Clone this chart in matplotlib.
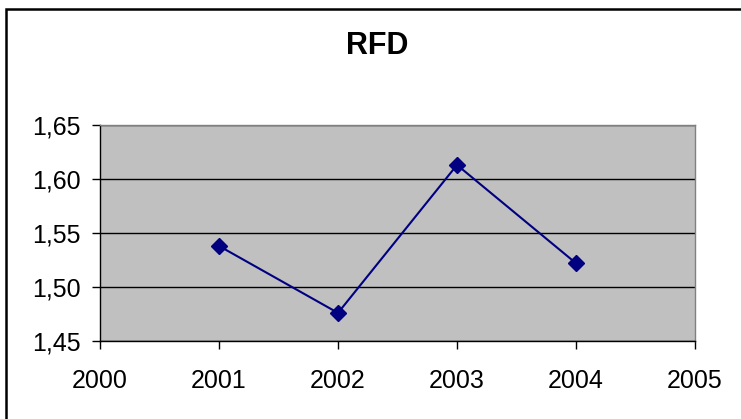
import matplotlib
matplotlib.use("Agg")
import matplotlib.pyplot as plt
from matplotlib.patches import Rectangle
from matplotlib.ticker import FuncFormatter

years = [2001, 2002, 2003, 2004]
rfd = [1.538, 1.476, 1.613, 1.522]
xticks = [2000, 2001, 2002, 2003, 2004, 2005]
yticks = [1.45, 1.50, 1.55, 1.60, 1.65]

plt.rcParams['font.family'] = ['Liberation Sans', 'DejaVu Sans']

W, H = 741, 419
fig = plt.figure(figsize=(W / 100, H / 100), dpi=100)
fig.patch.set_facecolor('white')

# outer chart border
fig.patches.append(Rectangle((6 / W, -0.05), 1.2, (H - 9) / H + 0.05,
                             transform=fig.transFigure, fill=False,
                             edgecolor='black', linewidth=1.8))

ax = fig.add_axes([100 / W, (H - 341) / H, (695 - 100) / W, (341 - 125) / H])
ax.set_facecolor('#C0C0C0')
ax.plot(years, rfd, color='#000080', linewidth=1.5, marker='D', markersize=8,
        markerfacecolor='#000080', markeredgecolor='#000080', zorder=3)

ax.set_xlim(2000, 2005)
ax.set_ylim(1.45, 1.65)
ax.set_xticks(xticks)
ax.set_yticks(yticks)
ax.yaxis.set_major_formatter(FuncFormatter(lambda v, p: f"{v:.2f}".replace('.', ',')))
ax.grid(axis='y', color='black', linewidth=1.0)
ax.set_axisbelow(True)
ax.tick_params(direction='out', length=6, width=1, labelsize=18, colors='black')
ax.tick_params(axis='x', pad=14)
ax.tick_params(axis='y', pad=8)
for s in ['left', 'bottom']:
    ax.spines[s].set_color('black')
    ax.spines[s].set_linewidth(1)
for s in ['top', 'right']:
    ax.spines[s].set_color('#808080')
    ax.spines[s].set_linewidth(1)

fig.text(377 / W, 1 - 46 / H, 'RFD', ha='center', va='center',
         fontsize=22, fontweight='bold')

fig.savefig('out.png', dpi=100)
